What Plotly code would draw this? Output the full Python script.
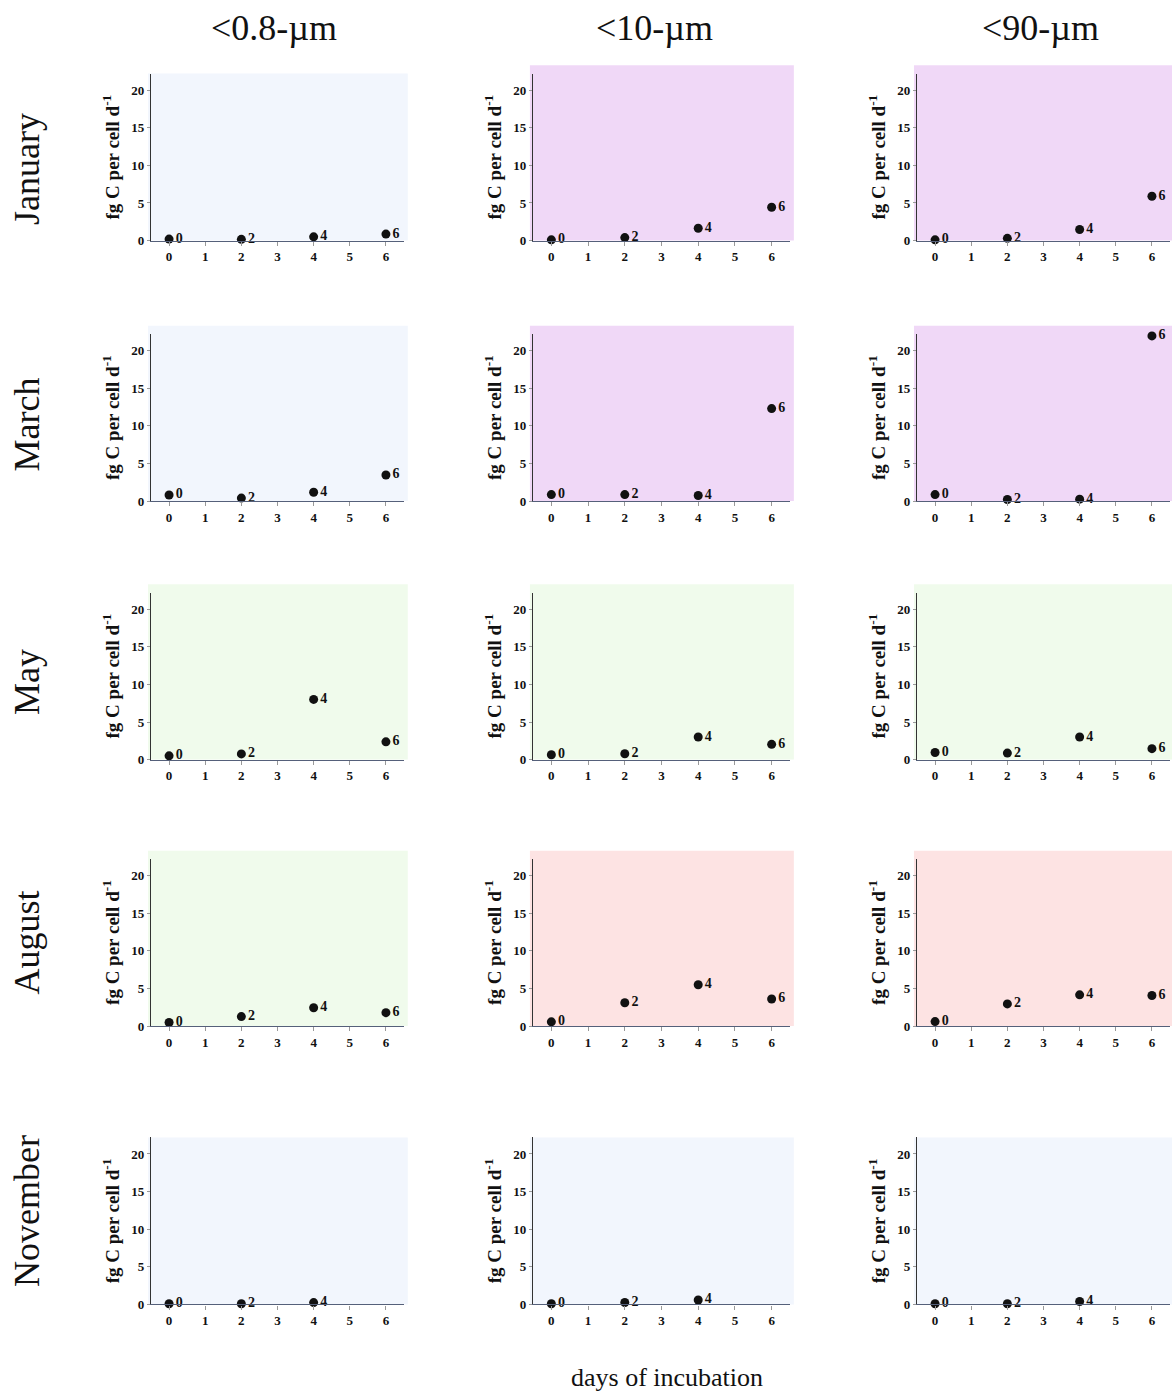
import plotly.graph_objects as go

W, H = 1172, 1396

months = ["January", "March", "May", "August", "November"]
fractions = ["<0.8-µm", "<10-µm", "<90-µm"]
days = [0, 2, 4, 6]
day_labels = ["0", "2", "4", "6"]

# values per month (rows) and size fraction (cols); None = no point
jan = [[0.2, 0.17, 0.5, 0.87], [0.1, 0.4, 1.65, 4.43], [0.1, 0.3, 1.47, 5.9]]
mar = [[0.82, 0.4, 1.17, 3.47], [0.87, 0.87, 0.74, 12.3], [0.87, 0.22, 0.26, 21.96]]
may = [[0.5, 0.76, 8.0, 2.36], [0.65, 0.78, 3.0, 2.03], [0.95, 0.87, 3.0, 1.46]]
aug = [[0.48, 1.26, 2.43, 1.78], [0.56, 3.1, 5.5, 3.6], [0.6, 2.95, 4.15, 4.07]]
nov = [[0.1, 0.1, 0.25, None], [0.1, 0.26, 0.6, None], [0.1, 0.1, 0.4, None]]
values = [jan, mar, may, aug, nov]

BLUE, LAV, GREEN, SALMON = "#f2f6fd", "#f0d8f7", "#f0fbec", "#fde3e3"
bg = [
    [BLUE, LAV, LAV],
    [BLUE, LAV, LAV],
    [GREEN, GREEN, GREEN],
    [GREEN, SALMON, SALMON],
    [BLUE, BLUE, BLUE],
]

x_ticks = [0, 1, 2, 3, 4, 5, 6]
y_ticks = [0, 5, 10, 15, 20]

# pixel layout
col_px = [(151, 404), (533, 790), (917, 1170)]
row_bottom_px = [242, 504, 764, 1032, 1312]
row_label_px = [170, 427, 686, 948, 1218]
plot_h = 168

SERIF = "Liberation Serif"

fig = go.Figure()
layout = {}
shapes = []
annotations = []

for r in range(5):
    for c in range(3):
        idx = r * 3 + c + 1
        xs = "" if idx == 1 else str(idx)
        x0p, x1p = col_px[c]
        yb = row_bottom_px[r]
        yt = yb - plot_h
        xdom = [x0p / W, x1p / W]
        ydom = [1 - yb / H, 1 - yt / H]
        vals = values[r][c]
        px = [d for d, v in zip(days, vals) if v is not None]
        py = [v for v in vals if v is not None]
        pl = [l for l, v in zip(day_labels, vals) if v is not None]
        fig.add_trace(go.Scatter(
            x=px, y=py, mode="markers+text", text=pl,
            textposition="middle right",
            textfont=dict(family=SERIF, size=14, color="#111", weight="bold"),
            marker=dict(size=9, color="#111"),
            cliponaxis=False, hoverinfo="skip",
            xaxis="x" + xs, yaxis="y" + xs,
        ))
        layout["xaxis" + xs] = dict(
            domain=xdom, anchor="y" + xs, range=[-0.5, 6.5],
            tickvals=x_ticks, ticks="outside", ticklen=4, tickcolor="#999",
            showline=True, linecolor="#55607a", linewidth=1.2,
            showgrid=False, zeroline=False,
            tickfont=dict(family=SERIF, size=13, color="#111", weight="bold"),
        )
        layout["yaxis" + xs] = dict(
            domain=ydom, anchor="x" + xs, range=[0, 22.2],
            tickvals=y_ticks, ticks="outside", ticklen=3, tickcolor="#999",
            showline=True, linecolor="#333", linewidth=1.2,
            showgrid=False, zeroline=False,
            tickfont=dict(family=SERIF, size=13, color="#111", weight="bold"),
            title=dict(text="fg C per cell d<sup>-1</sup>", standoff=6,
                       font=dict(family=SERIF, size=19, color="#111", weight="bold")),
        )
        top = 1.0 if (r == 4 or (r == 0 and c == 0)) else 1.05
        shapes.append(dict(
            type="rect", xref="x" + xs + " domain", yref="y" + xs + " domain",
            x0=-0.012, x1=1.015, y0=0, y1=top,
            fillcolor=bg[r][c], line=dict(width=0), layer="below",
        ))

title_x = [274, 654, 1040]
for c in range(3):
    annotations.append(dict(
        text=fractions[c], x=title_x[c] / W, y=1 - 28 / H, xref="paper", yref="paper",
        xanchor="center", yanchor="middle",
        showarrow=False, font=dict(family=SERIF, size=36, color="#111"),
    ))

for r in range(5):
    annotations.append(dict(
        text=months[r], x=27 / W, y=1 - row_label_px[r] / H, xref="paper", yref="paper",
        xanchor="center", yanchor="middle",
        showarrow=False, textangle=-90,
        font=dict(family=SERIF, size=36, color="#111"),
    ))

annotations.append(dict(
    text="days of incubation", x=667 / W, y=1 - 1385 / H, xref="paper", yref="paper",
    xanchor="center", yanchor="middle",
    showarrow=False, font=dict(family=SERIF, size=26, color="#111"),
))

fig.update_layout(
    width=W, height=H, margin=dict(l=0, r=0, t=0, b=0),
    paper_bgcolor="white", plot_bgcolor="rgba(0,0,0,0)",
    showlegend=False, shapes=shapes, annotations=annotations,
    **layout,
)

fig.write_html("out.html")
